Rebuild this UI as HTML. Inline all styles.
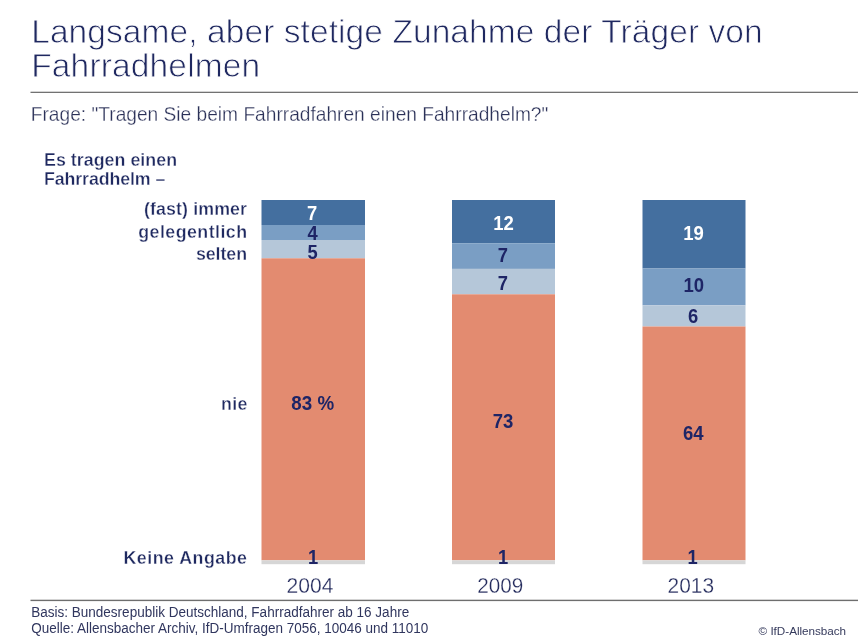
<!DOCTYPE html>
<html lang="de">
<head>
<meta charset="utf-8">
<title>Langsame, aber stetige Zunahme der Träger von Fahrradhelmen</title>
<style>
html,body{margin:0;padding:0;background:#fff;}
body{width:858px;height:641px;overflow:hidden;font-family:"Liberation Sans",sans-serif;}
svg{display:block;}
text{font-family:"Liberation Sans",sans-serif;}
.title{font-size:33.5px;fill:#1f2860;stroke:#fff;stroke-width:0.8px;}
.sub{font-size:20.3px;fill:#2b3158;stroke:#fff;stroke-width:0.3px;}
.b{font-weight:bold;font-size:17.8px;fill:#1f2960;stroke:#fff;stroke-width:0.35px;}
.n{font-weight:bold;font-size:20px;fill:#1e2566;text-anchor:middle;}
.w{fill:#fff;}
.yr{font-size:22.5px;fill:#232a5c;text-anchor:middle;stroke:#fff;stroke-width:0.3px;}
.ft{font-size:13.8px;fill:#30365e;}
.cp{font-size:11.7px;fill:#353a5c;}
</style>
</head>
<body>
<svg width="858" height="641" viewBox="0 0 858 641">
<rect x="0" y="0" width="858" height="641" fill="#ffffff"/>

<!-- title -->
<text class="title" x="31.2" y="43" textLength="731.5" lengthAdjust="spacing">Langsame, aber stetige Zunahme der Träger von</text>
<text class="title" x="31.2" y="77" textLength="229" lengthAdjust="spacing">Fahrradhelmen</text>
<rect x="30.5" y="91.7" width="828" height="1.3" fill="#727272"/>
<text class="sub" x="30.8" y="121" textLength="517.5" lengthAdjust="spacingAndGlyphs">Frage: "Tragen Sie beim Fahrradfahren einen Fahrradhelm?"</text>

<!-- legend heading -->
<text class="b" x="44" y="166" textLength="133" lengthAdjust="spacing">Es tragen einen</text>
<text class="b" x="44" y="184.7" textLength="121.3" lengthAdjust="spacing">Fahrradhelm –</text>

<!-- row labels -->
<text class="b" x="144" y="215.2" textLength="103" lengthAdjust="spacing">(fast) immer</text>
<text class="b" x="138.3" y="237.7" textLength="108.7" lengthAdjust="spacing">gelegentlich</text>
<text class="b" x="196" y="259.5" textLength="51" lengthAdjust="spacing">selten</text>
<text class="b" x="221" y="409.6" textLength="26.3" lengthAdjust="spacing">nie</text>
<text class="b" x="123.5" y="564" textLength="123.5" lengthAdjust="spacing">Keine Angabe</text>

<!-- bar 1 : 2004 -->
<g>
<rect x="261.5" y="200" width="103.5" height="25" fill="#446f9f"/>
<rect x="261.5" y="225" width="103.5" height="15" fill="#7a9ec4"/>
<rect x="261.5" y="240" width="103.5" height="18.3" fill="#b5c7d9"/>
<rect x="261.5" y="258.3" width="103.5" height="302" fill="#e38b70"/>
<rect x="261.5" y="560.3" width="103.5" height="3.9" fill="#d6d6d6"/>
<text class="n w" x="312" y="219.5" textLength="10.2" lengthAdjust="spacingAndGlyphs">7</text>
<text class="n" x="312.5" y="240" textLength="10.2" lengthAdjust="spacingAndGlyphs">4</text>
<text class="n" x="312.5" y="258.5" textLength="10.2" lengthAdjust="spacingAndGlyphs">5</text>
<text class="n" x="312.7" y="409.6" textLength="42.8" lengthAdjust="spacingAndGlyphs">83 %</text>
<text class="n" x="313" y="563.6" textLength="10.2" lengthAdjust="spacingAndGlyphs">1</text>
<text class="yr" x="309.9" y="593" textLength="47" lengthAdjust="spacingAndGlyphs">2004</text>
</g>

<!-- bar 2 : 2009 -->
<g>
<rect x="452" y="200" width="103" height="43.2" fill="#446f9f"/>
<rect x="452" y="243.2" width="103" height="25.7" fill="#7a9ec4"/>
<rect x="452" y="268.9" width="103" height="25.4" fill="#b5c7d9"/>
<rect x="452" y="294.3" width="103" height="266" fill="#e38b70"/>
<rect x="452" y="560.3" width="103" height="3.9" fill="#d6d6d6"/>
<text class="n w" x="503.5" y="230" textLength="20.6" lengthAdjust="spacingAndGlyphs">12</text>
<text class="n" x="502.8" y="262.3" textLength="10.2" lengthAdjust="spacingAndGlyphs">7</text>
<text class="n" x="502.8" y="289.8" textLength="10.2" lengthAdjust="spacingAndGlyphs">7</text>
<text class="n" x="503" y="427.5" textLength="20.6" lengthAdjust="spacingAndGlyphs">73</text>
<text class="n" x="503" y="563.6" textLength="10.2" lengthAdjust="spacingAndGlyphs">1</text>
<text class="yr" x="500.3" y="593" textLength="46" lengthAdjust="spacingAndGlyphs">2009</text>
</g>

<!-- bar 3 : 2013 -->
<g>
<rect x="642.5" y="200" width="103" height="68.5" fill="#446f9f"/>
<rect x="642.5" y="268.5" width="103" height="36.8" fill="#7a9ec4"/>
<rect x="642.5" y="305.3" width="103" height="21.2" fill="#b5c7d9"/>
<rect x="642.5" y="326.5" width="103" height="233.8" fill="#e38b70"/>
<rect x="642.5" y="560.3" width="103" height="3.9" fill="#d6d6d6"/>
<text class="n w" x="693.6" y="240.3" textLength="20.6" lengthAdjust="spacingAndGlyphs">19</text>
<text class="n" x="693.8" y="292.2" textLength="20.6" lengthAdjust="spacingAndGlyphs">10</text>
<text class="n" x="693.2" y="322.7" textLength="10.2" lengthAdjust="spacingAndGlyphs">6</text>
<text class="n" x="693.3" y="440" textLength="20.6" lengthAdjust="spacingAndGlyphs">64</text>
<text class="n" x="692.7" y="563.6" textLength="10.2" lengthAdjust="spacingAndGlyphs">1</text>
<text class="yr" x="690.8" y="593" textLength="46.5" lengthAdjust="spacingAndGlyphs">2013</text>
</g>

<!-- footer -->
<rect x="30.5" y="599.7" width="828" height="1.4" fill="#6e6e6e"/>
<text class="ft" x="31.2" y="617.4" textLength="378" lengthAdjust="spacingAndGlyphs">Basis: Bundesrepublik Deutschland, Fahrradfahrer ab 16 Jahre</text>
<text class="ft" x="31.2" y="633.4" textLength="397" lengthAdjust="spacingAndGlyphs">Quelle: Allensbacher Archiv, IfD-Umfragen 7056, 10046 und 11010</text>
<text class="cp" x="758.6" y="634.6" textLength="87.5" lengthAdjust="spacing">© IfD-Allensbach</text>
</svg>
</body>
</html>
